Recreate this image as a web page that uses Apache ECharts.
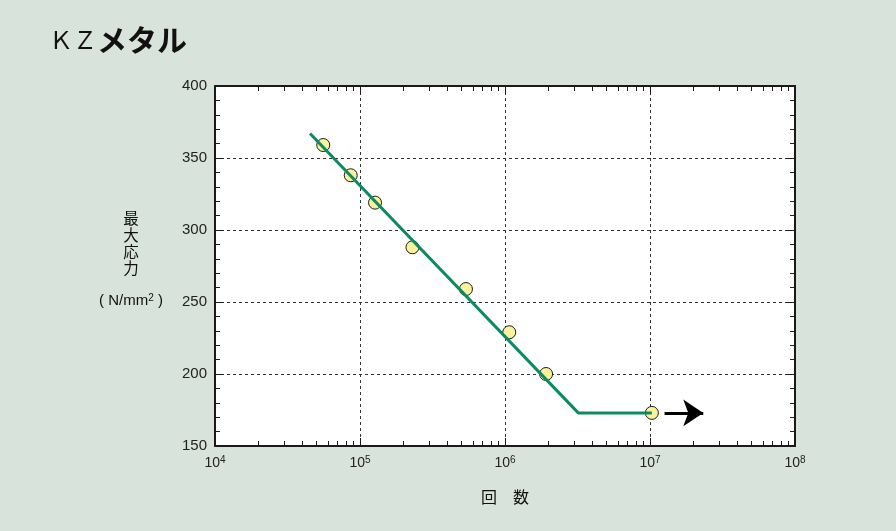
<!DOCTYPE html>
<html><head><meta charset="utf-8">
<script src="https://cdn.jsdelivr.net/npm/echarts@6/dist/echarts.min.js"></script>
<style>html,body{margin:0;padding:0;background:#d8e3db}#c{width:896px;height:531px}</style>
</head><body><div id="c"></div>
<script>
// data
const cycles = [5.58e4, 8.63e4, 1.27e5, 2.3e5, 5.38e5, 1.07e6, 1.92e6, 1.03e7];
const stress = [359, 338, 319, 288, 259, 229, 200, 173];
const fitCycles = [4.52e4, 3.2e6, 1.03e7];
const fitStress = [367, 173, 173];
const arrowCycles = [1.26e7, 2.33e7];
const arrowStress = [173, 173];
const xTickExps = [4, 5, 6, 7, 8];
const yMin = 150, yMax = 400, yStep = 50;
const titleA = 'ＫＺ', titleB = 'メタル';
const yName = ['最', '大', '応', '力'];
const yUnit = '( N/mm{s|2} )';
const xName = '回　数';

const majorVals = xTickExps.map(e => Math.pow(10, e));
const minorVals = [];
for (let e = 4; e < 8; e++) for (let m = 2; m <= 9; m++) minorVals.push(m * Math.pow(10, e));

const ink = '#1a1a1a';
const logBase = {type: 'log', logBase: 10, min: 1e4, max: 1e8, gridIndex: 0};
function xAx(pos, vals, len, opts) {
  return Object.assign({}, logBase, {
    position: pos,
    axisLine: {show: false},
    axisTick: {show: true, inside: true, length: len, customValues: vals, lineStyle: {color: ink, width: 1}},
    axisLabel: {show: false},
    splitLine: {show: false}
  }, opts || {});
}
const chart = echarts.init(document.getElementById('c'));
chart.setOption({
  animation: false,
  backgroundColor: '#d8e3db',
  title: {
    text: '{a|' + titleA + '}{b|' + titleB + '}',
    left: 44, top: 17,
    textStyle: {
      rich: {
        a: {fontFamily: 'Noto Sans CJK JP', fontSize: 24, color: '#111', fontWeight: 'normal', lineHeight: 36},
        b: {fontFamily: 'Noto Sans CJK JP', fontSize: 30, color: '#111', fontWeight: 'bold', lineHeight: 36}
      }
    }
  },
  grid: {left: 215, right: 101, top: 86, bottom: 85, show: true, backgroundColor: '#ffffff', borderWidth: 0},
  xAxis: [
    xAx('bottom', minorVals, 5, {
      axisLine: {show: true, onZero: false, lineStyle: {color: ink, width: 2}},
      axisLabel: {
        show: true, customValues: majorVals, margin: 9,
        formatter: v => '{b|10}{s|' + xTickExps[majorVals.indexOf(v)] + '}',
        rich: {
          b: {fontFamily: 'Liberation Sans', fontSize: 14, color: '#222', lineHeight: 16},
          s: {fontFamily: 'Liberation Sans', fontSize: 10, color: '#222', lineHeight: 16, verticalAlign: 'top'}
        }
      },
      name: xName, nameLocation: 'middle', nameGap: 43,
      nameTextStyle: {fontFamily: 'Noto Sans CJK JP', fontSize: 16, color: '#111'}
    }),
    xAx('bottom', majorVals, 8, {
      splitLine: {show: true, lineStyle: {color: '#333', width: 1, type: [3, 3]}}
    }),
    xAx('top', minorVals, 5, {axisLine: {show: true, onZero: false, lineStyle: {color: ink, width: 2}}}),
    xAx('top', majorVals, 8)
  ],
  yAxis: [
    {
      type: 'value', min: yMin, max: yMax, interval: yStep, position: 'left',
      axisLine: {show: true, onZero: false, lineStyle: {color: ink, width: 2}},
      axisTick: {show: true, inside: true, length: 8, lineStyle: {color: ink, width: 1}},
      minorTick: {show: true, splitNumber: 5, length: 5, lineStyle: {color: ink, width: 1}},
      axisLabel: {fontFamily: 'Liberation Sans', fontSize: 15, color: '#222', margin: 8},
      splitLine: {show: true, lineStyle: {color: '#333', width: 1, type: [3, 3]}}
    },
    {
      type: 'value', min: yMin, max: yMax, interval: yStep, position: 'right',
      axisLine: {show: true, onZero: false, lineStyle: {color: ink, width: 2}},
      axisTick: {show: true, inside: true, length: 8, lineStyle: {color: ink, width: 1}},
      minorTick: {show: true, splitNumber: 5, length: 5, lineStyle: {color: ink, width: 1}},
      axisLabel: {show: false},
      splitLine: {show: false}
    }
  ],
  graphic: [
    {type: 'text', x: 131, y: 210, style: {
      text: yName.join('\n'), fontFamily: 'Noto Sans CJK JP', fontSize: 15.5, lineHeight: 16.7,
      fill: '#111', align: 'center', verticalAlign: 'top', textAlign: 'center'}},
    {type: 'text', x: 131, y: 301, style: {
      text: yUnit, align: 'center', verticalAlign: 'middle', textAlign: 'center',
      rich: {s: {fontFamily: 'Liberation Sans', fontSize: 10, fill: '#111', lineHeight: 16, verticalAlign: 'top'}},
      fontFamily: 'Liberation Sans', fontSize: 15, lineHeight: 16, fill: '#111'}}
  ],
  series: [
    {
      type: 'scatter', xAxisIndex: 0, yAxisIndex: 0, z: 2,
      data: cycles.map((c, i) => [c, stress[i]]),
      symbol: 'circle', symbolSize: 13,
      itemStyle: {color: '#faf29a', borderColor: ink, borderWidth: 1, opacity: 1},
      markLine: {
        silent: true, animation: false,
        symbol: ['none', 'arrow'], symbolSize: 20,
        label: {show: false},
        lineStyle: {color: '#000', width: 3, type: 'solid'},
        data: [[{coord: [arrowCycles[0], arrowStress[0]]}, {coord: [arrowCycles[1], arrowStress[1]]}]]
      }
    },
    {
      type: 'line', xAxisIndex: 0, yAxisIndex: 0, z: 3,
      data: fitCycles.map((c, i) => [c, fitStress[i]]),
      symbol: 'none', lineStyle: {color: '#0c8a62', width: 3}
    }
  ]
});
</script>
</body></html>
